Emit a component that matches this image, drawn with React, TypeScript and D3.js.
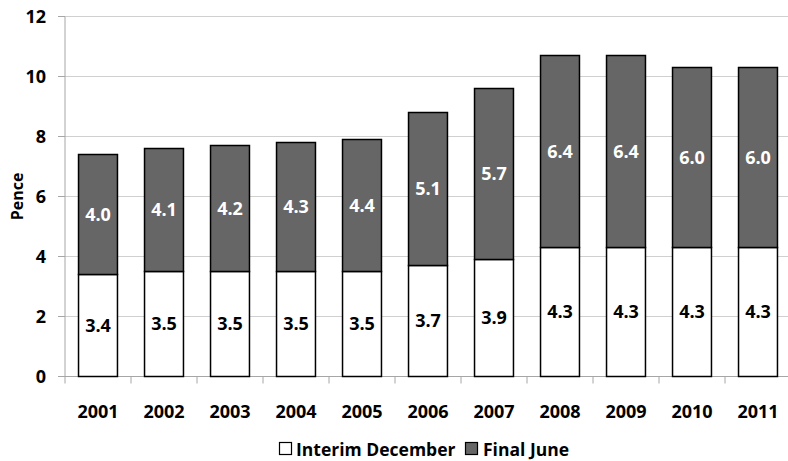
import * as React from "react";
import * as d3 from "d3";

const years = ["2001", "2002", "2003", "2004", "2005", "2006", "2007", "2008", "2009", "2010", "2011"];
const interim = [3.4, 3.5, 3.5, 3.5, 3.5, 3.7, 3.9, 4.3, 4.3, 4.3, 4.3];
const final = [4.0, 4.1, 4.2, 4.3, 4.4, 5.1, 5.7, 6.4, 6.4, 6.0, 6.0];
const yTicks = [0, 2, 4, 6, 8, 10, 12];
const seriesNames = ["Interim December", "Final June"];

const width = 788;
const height = 461;
const font = "'Open Sans', sans-serif";

const App = () => {
  const left = 65;
  const right = 791;
  const top = 16.5;
  const bottom = 376.5;

  const x = d3.scaleBand().domain(years).range([left, right]).paddingInner(0.41).paddingOuter(0.205);
  const y = d3.scaleLinear().domain([0, 12]).range([bottom, top]);

  const stack = d3.stack<any>().keys(["interim", "final"]);
  const rows = years.map((yr, i) => ({ year: yr, interim: interim[i], final: final[i] }));
  const series = stack(rows);
  const fills = ["#ffffff", "#666666"];
  const labelColors = ["#000000", "#ffffff"];

  const step = (right - left) / years.length;

  return (
    <svg width={width} height={height} style={{ position: "absolute", left: 0, top: 0 }}>
      {/* gridlines */}
      {yTicks.filter(t => t > 0).map(t => (
        <line key={t} x1={left} x2={right} y1={y(t)} y2={y(t)} stroke="#d0d0d0" strokeWidth={1} />
      ))}
      {/* y axis */}
      <line x1={left} x2={left} y1={top} y2={bottom} stroke="#a6a6a6" strokeWidth={1} />
      {yTicks.map(t => (
        <g key={t}>
          <line x1={left - 7} x2={left} y1={y(t)} y2={y(t)} stroke="#a6a6a6" />
          <text x={46} y={y(t)} dy="0.35em" textAnchor="end" fontFamily={font} fontWeight="bold" fontSize={18}>
            {t}
          </text>
        </g>
      ))}
      <text
        transform={`translate(23,${(top + bottom) / 2}) rotate(-90)`}
        textAnchor="middle"
        fontFamily={font}
        fontWeight="bold"
        fontSize={16}
      >
        Pence
      </text>
      {/* x axis */}
      <line x1={left} x2={right} y1={bottom} y2={bottom} stroke="#a6a6a6" />
      {d3.range(years.length + 1).map(i => (
        <line key={i} x1={left + i * step} x2={left + i * step} y1={bottom} y2={bottom + 7} stroke="#a6a6a6" />
      ))}
      {years.map(yr => (
        <text
          key={yr}
          x={(x(yr) as number) + x.bandwidth() / 2}
          y={412}
          dy="0.35em"
          textAnchor="middle"
          fontFamily={font}
          fontWeight="bold"
          fontSize={18}
        >
          {yr}
        </text>
      ))}
      {/* bars */}
      {series.map((s, si) => (
        <g key={si}>
          {s.map((d, i) => (
            <rect
              key={i}
              x={x(years[i])}
              y={y(d[1])}
              width={x.bandwidth()}
              height={y(d[0]) - y(d[1])}
              fill={fills[si]}
              stroke="#000"
              strokeWidth={1.5}
            />
          ))}
        </g>
      ))}
      {series.map((s, si) => (
        <g key={"l" + si}>
          {s.map((d, i) => (
            <text
              key={i}
              x={(x(years[i]) as number) + x.bandwidth() / 2}
              y={y((d[0] + d[1]) / 2)}
              dy="0.35em"
              textAnchor="middle"
              fill={labelColors[si]}
              fontFamily={font}
              fontWeight="bold"
              fontSize={18}
            >
              {(d[1] - d[0]).toFixed(1)}
            </text>
          ))}
        </g>
      ))}
      {/* legend */}
      <g fontFamily={font} fontWeight="bold" fontSize={17.5}>
        <rect x={279.5} y={442.5} width={12} height={12} fill={fills[0]} stroke="#000" strokeWidth={1.2} />
        <text x={296} y={456}>{seriesNames[0]}</text>
        <rect x={465.5} y={442.5} width={12} height={12} fill={fills[1]} stroke="#000" strokeWidth={1.2} />
        <text x={483} y={456}>{seriesNames[1]}</text>
      </g>
    </svg>
  );
};

export default App;
